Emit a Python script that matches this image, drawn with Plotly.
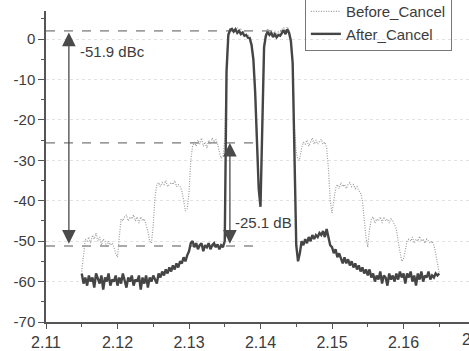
import plotly.graph_objects as go

# frequency grid (GHz)
freq_start = 2.115
freq_step = 0.00025
n_points = 201
freq = [round(freq_start + i * freq_step, 5) for i in range(n_points)]

before_cancel = [
    -57.5, -53, -49.5, -50, -49, -50.5, -48.5, -49.5, -48, -50,
    -49, -51, -49.5, -50, -51.5, -50, -51, -50.5, -51.5, -53,
    -54, -49, -44.5, -45, -44, -43.5, -45, -44, -44.5, -43.5,
    -45, -44, -45.5, -44, -45, -44.5, -46, -47.5, -50, -50.5,
    -46, -39, -36, -35.5, -36.5, -35.5, -36, -35, -36.5, -36,
    -35.5, -36, -35, -36.5, -36, -36.5, -37.5, -40, -42.5, -42,
    -38, -30, -26.5, -25.5, -26.5, -25, -26, -24.5, -26.5, -25.5,
    -27, -25, -26, -24.5, -25.5, -24.8, -26, -28, -29.5, -29,
    -25, -5, 1.5, 2.8, 2.2, 2.6, 1.9, 2.9, 1.8, 2.4,
    1.5, 2.0, 1.2, 1.0, 0.6, -1.0, -4, -12, -24, -36,
    -40.5, -17, -1.5, 1.5, 2.6, 1.6, 2.3, 1.2, 2.0, 1.0,
    1.8, 1.4, 2.4, 2.8, 1.9, 3.0, 2.0, 0, -5, -22,
    -28, -30, -29.5, -27, -25.5, -26, -25, -26.5, -25.5, -24.5,
    -26, -25, -26, -25.5, -24.8, -26, -25.5, -27, -32, -40,
    -43, -40, -37, -36, -37, -35.5, -36.5, -36, -37, -36,
    -35.5, -36.5, -36, -37, -36.5, -37.5, -38, -40, -45, -49,
    -51.5, -47, -44.5, -44, -45.5, -44.5, -45, -44, -45.5, -44,
    -45, -44.5, -45.5, -44.5, -45, -46, -47, -50, -53, -55,
    -54.5, -52.5, -50, -49.5, -50, -49, -50.5, -49.5, -50, -48.8,
    -50, -49.5, -50.5, -49.5, -50, -50.5, -50, -51, -53, -55.5,
    -58,
]

after_cancel = [
    -58, -60.5, -59, -61, -58.5, -60, -59, -61.5, -58, -59.5,
    -60.5, -58.5, -62, -59, -60, -58, -61, -59.5, -60, -58.5,
    -61, -59, -60.5, -58, -59.5, -61.5, -59, -60, -58.5, -61,
    -59.5, -60, -58.5, -62, -59, -60.5, -58.5, -61.5, -59, -60,
    -58.5, -59.5, -60.5, -58, -59, -57.5, -58.5, -57, -58, -56.5,
    -57.5, -56, -57, -55.5, -56.5, -55, -55.5, -54, -55, -53.5,
    -52.5, -50.5, -50, -51.5, -50.5, -52, -51, -50.5, -52.5, -51,
    -51.5, -50.5, -52, -51, -50.5, -51.5, -50.8, -52, -51, -51.5,
    -50, -8, 1.0, 2.2, 2.5, 1.8, 2.4, 1.5, 2.0, 1.2,
    1.6, 0.8, 1.0, 0.3, 0.2, -1.5, -5, -13, -25, -37,
    -41.5, -18, -2, 0.8, 1.8, 1.0, 1.5, 0.5, 1.2, 0.4,
    1.0, 0.8, 1.6, 2.2, 1.2, 2.4, 1.5, -0.5, -6, -30,
    -51, -55, -53, -50, -51, -49.5, -50.5, -49, -50, -48.5,
    -49.5, -48.5, -49, -48, -48.5, -47.5, -49, -47, -49.5, -51,
    -51.5, -53, -52, -54, -53, -54.5, -55.5, -54, -55.5, -54.5,
    -56, -55, -56.5, -55.5, -57, -56, -57.5, -56.5, -58, -57,
    -58.5, -57, -59, -58, -60, -58.5, -59.5, -57.5, -60.5, -58.5,
    -59, -61, -58, -59.5, -58.5, -60, -58, -59.5, -57.5, -59,
    -58, -60.5, -58, -59, -57.5, -60, -58.5, -61, -58, -59.5,
    -57.5, -60, -58.5, -59, -57.5, -59.5, -58.5, -59, -58, -58.5,
    -58,
]

y_tickvals = [0, -10, -20, -30, -40, -50, -60, -70]
y_ticktext = ["0", "-10", "-20", "-30", "-40", "-50", "-60", "-70"]
x_tickvals = [2.11, 2.12, 2.13, 2.14, 2.15, 2.16]
x_ticktext = ["2.11", "2.12", "2.13", "2.14", "2.15", "2.16"]

# reference levels (dB) and their right ends (GHz)
ref_levels = [2.0, -25.7, -51.2]
ref_ends = [2.1440, 2.1396, 2.1397]

FONT = "Liberation Sans, Arial, sans-serif"
INK = "#3c3c3c"

fig = go.Figure()
fig.add_trace(go.Scatter(
    x=freq, y=before_cancel, mode="lines", name="Before_Cancel",
    line=dict(color="#9c9c9c", width=1.2, dash="1px,1.5px"),
))
fig.add_trace(go.Scatter(
    x=freq, y=after_cancel, mode="lines", name="After_Cancel",
    line=dict(color="#454545", width=2.4),
))

for lvl, xe in zip(ref_levels, ref_ends):
    fig.add_shape(type="line", xref="x", yref="y", x0=2.11, x1=xe, y0=lvl, y1=lvl,
                  line=dict(color="#555555", width=1, dash="dash"), layer="below")

arrows = [(2.1132, ref_levels[0] - 0.4, ref_levels[2] + 0.2),
          (2.13572, ref_levels[1], ref_levels[2] + 0.2)]
for ax_x, y_top, y_bot in arrows:
    fig.add_annotation(x=ax_x, y=y_top, ax=ax_x, ay=y_bot, xref="x", yref="y",
                       axref="x", ayref="y", text="", showarrow=True,
                       arrowhead=2, arrowside="end+start", arrowsize=2.1,
                       arrowwidth=1.3, arrowcolor="#4a4a4a",
                       standoff=0, startstandoff=0)

fig.add_annotation(x=2.11448, y=-3.2, xref="x", yref="y", text="-51.9 dBc",
                   showarrow=False, xanchor="left", yanchor="middle",
                   font=dict(family=FONT, size=15, color=INK))
fig.add_annotation(x=2.13615, y=-45.3, xref="x", yref="y", text="-25.1 dB",
                   showarrow=False, xanchor="left", yanchor="middle",
                   font=dict(family=FONT, size=15, color=INK))
# cut-off tick label at the right edge
fig.add_annotation(x=(477 - 46) / 423, y=0, xref="paper", yref="paper",
                   text="2.17", showarrow=False, xanchor="center", yanchor="top",
                   yshift=-7, font=dict(family=FONT, size=16, color=INK))

fig.update_layout(
    width=469, height=351,
    margin=dict(l=46, r=0, t=11, b=29, autoexpand=False),
    paper_bgcolor="white", plot_bgcolor="white",
    font=dict(family=FONT, color=INK),
    showlegend=True,
    legend=dict(x=0.612, y=0.871, xanchor="left", yanchor="bottom",
                bgcolor="rgba(255,255,255,0)", bordercolor="#777777", borderwidth=1,
                font=dict(family=FONT, size=15, color=INK),
                tracegroupgap=0, itemwidth=30),
)
fig.update_xaxes(
    range=[2.11, 2.11 + 423 / 7150], showgrid=False, zeroline=False,
    showline=True, linecolor="#555555", linewidth=1.5,
    tickvals=x_tickvals, ticktext=x_ticktext, ticks="outside", ticklen=5,
    tickcolor="#555555", tickwidth=1.2,
    tickfont=dict(family=FONT, size=16, color=INK),
    minor=dict(dtick=0.005, tick0=2.11, ticks="outside", ticklen=3, tickcolor="#555555"),
)
fig.update_yaxes(
    range=[-70, 6.93], zeroline=False,
    showgrid=True, gridcolor="#e2e2e2", griddash="dot", gridwidth=1,
    showline=True, linecolor="#555555", linewidth=1.5,
    tickvals=y_tickvals, ticktext=y_ticktext, ticks="outside", ticklen=6,
    tickcolor="#555555", tickwidth=1.2,
    tickfont=dict(family=FONT, size=15, color=INK),
    minor=dict(dtick=5, tick0=0, ticks="outside", ticklen=3, tickcolor="#555555", showgrid=False),
)

fig.write_html("out.html", config={"displayModeBar": False},
               post_script="document.body.style.margin='0';")
